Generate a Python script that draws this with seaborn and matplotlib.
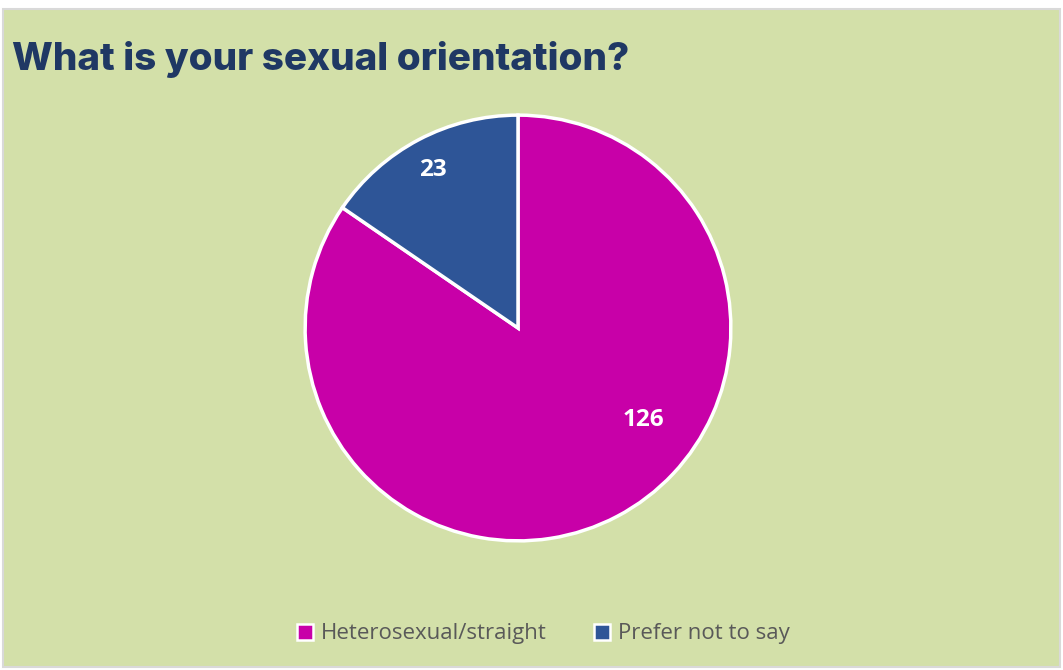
import matplotlib
matplotlib.use("Agg")
import matplotlib.pyplot as plt
import seaborn as sns
from matplotlib.patches import Rectangle
from matplotlib.lines import Line2D

categories = ["Heterosexual/straight", "Prefer not to say"]
values = [126, 23]
colors = ["#C800A8", "#2E5597"]
title = "What is your sexual orientation?"

sns.set_theme(style="white")
plt.rcParams['font.family'] = ['Open Sans', 'DejaVu Sans']

W, H = 1063, 670
fig = plt.figure(figsize=(W/100, H/100), dpi=100)
fig.patch.set_facecolor("white")

bgax = fig.add_axes([0, 0, 1, 1], zorder=-10)
bgax.set_xlim(0, W); bgax.set_ylim(0, H)
bgax.axis("off")
bgax.add_patch(Rectangle((3, 3), 1057, 658, facecolor="#D3E0A9",
                         edgecolor="#D9D9D9", linewidth=1.5))

cx, cy, r = 518, 328, 215
ax = fig.add_axes([(cx - r)/W, (H - cy - r)/H, 2*r/W, 2*r/H], zorder=1)
ax.set_facecolor("none")
wedges, _ = ax.pie(values, colors=colors, startangle=90, counterclock=False,
                   wedgeprops=dict(edgecolor="white", linewidth=2.5), radius=1)
ax.set_xlim(-1.01, 1.01); ax.set_ylim(-1.01, 1.01)
ax.set_aspect("equal")
ax.axis("off")

label_pos = [(0.59, -0.43), (-0.40, 0.74)]
for v, (x, y) in zip(values, label_pos):
    ax.text(x, y, str(v), ha="center", va="center", color="white",
            fontsize=17.5, fontweight="bold")

fig.text(12/W, 1 - 60/H, title, ha="left", va="center", color="#1F3864",
         fontsize=27.8, fontweight="heavy", family=['Inter', 'DejaVu Sans'], zorder=2)

handles = [Line2D([0], [0], marker="s", linestyle="none", markersize=11,
                  markerfacecolor=c, markeredgecolor="white", markeredgewidth=1.8)
           for c in colors]
leg = fig.legend(handles, categories, loc="center", bbox_to_anchor=(542/W, 1 - 634/H),
                 ncol=2, frameon=False, fontsize=16, handletextpad=0.2,
                 columnspacing=2.0, handlelength=1.0, labelcolor="#595959")

fig.savefig("out.png", dpi=100, facecolor=fig.get_facecolor())
